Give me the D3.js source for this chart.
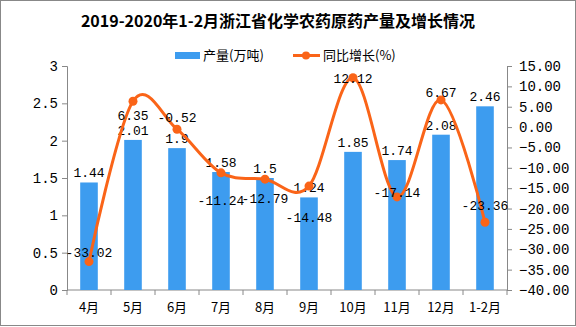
<!DOCTYPE html>
<html>
<head>
<meta charset="utf-8">
<script src="https://cdn.jsdelivr.net/npm/d3@7"></script>
<style>
	body { margin: 0; background: #fff; }
	svg text { font-family: "SimSun", "Noto Sans CJK SC", sans-serif; }
</style>
</head>
<body>
<div id="chart"></div>
<script>
var months = ["4月", "5月", "6月", "7月", "8月", "9月", "10月", "11月", "12月", "1-2月"];
var output = [1.44, 2.01, 1.9, 1.58, 1.5, 1.24, 1.85, 1.74, 2.08, 2.46];
var growth = [-33.02, 6.35, -0.52, -11.24, -12.79, -14.48, 12.12, -17.14, 6.67, -23.36];
var leftTicks = [0, 0.5, 1, 1.5, 2, 2.5, 3];
var rightTicks = [15, 10, 5, 0, -5, -10, -15, -20, -25, -30, -35, -40];
// where each growth label sits relative to its point (px, + is down)
var growthLabelDy = [-10, 14, -12, 27, 19, 31, 0, -5, -8, -17];

var W = 576, H = 327;
var margin = {top: 66, right: 69, bottom: 37, left: 67},
		width = W - margin.left - margin.right,
		height = H - margin.top - margin.bottom;

var svg = d3.select("#chart").append("svg")
		.attr("width", W)
		.attr("height", H);

svg.append("rect")
	.attr("x", 0.5).attr("y", 0.5)
	.attr("width", W - 1).attr("height", H - 2)
	.attr("fill", "#fff")
	.attr("stroke", "#888");

svg.append("text")
	.attr("x", 278).attr("y", 27)
	.attr("text-anchor", "middle")
	.attr("font-size", 16)
	.attr("font-weight", "bold")
	.text("2019-2020年1-2月浙江省化学农药原药产量及增长情况");

// legend
var lg = svg.append("g");
lg.append("rect").attr("x", 175).attr("y", 52).attr("width", 25).attr("height", 7).attr("fill", "#3d9cef");
lg.append("text").attr("x", 203).attr("y", 60).attr("font-size", 13).text("产量(万吨)");
lg.append("line").attr("x1", 293).attr("x2", 320).attr("y1", 55.5).attr("y2", 55.5)
	.attr("stroke", "#fa6418").attr("stroke-width", 3);
lg.append("circle").attr("cx", 306).attr("cy", 55.5).attr("r", 4).attr("fill", "#fa6418");
lg.append("text").attr("x", 323).attr("y", 60).attr("font-size", 13).text("同比增长(%)");

var g = svg.append("g")
		.attr("transform", "translate(" + margin.left + "," + margin.top + ")");

var x = d3.scaleBand()
		.domain(months)
		.range([0, width])
		.paddingInner(0.6)
		.paddingOuter(0.3);

var xc = function(d) { return x(d) + x.bandwidth() / 2; };

var y = d3.scaleLinear().domain([0, 3]).range([height, 0]);
var y2 = d3.scaleLinear().domain([-40, 15]).range([height, 0]);

var yAxis = d3.axisLeft(y).tickValues(leftTicks).tickSize(5).tickPadding(4)
		.tickFormat(function(d) { return String(d); });
var y2Axis = d3.axisRight(y2).tickValues(rightTicks).tickSize(5).tickPadding(7)
		.tickFormat(d3.format(".2f"));

var yg = g.append("g").attr("class", "y axis").call(yAxis);
var y2g = g.append("g").attr("class", "y2 axis")
		.attr("transform", "translate(" + width + ",0)").call(y2Axis);

// x axis with ticks between categories
var xg = g.append("g").attr("transform", "translate(0," + height + ")");
xg.append("line").attr("x1", 0).attr("x2", width).attr("stroke", "#888");
var step = width / months.length;
xg.selectAll("line.tk").data(d3.range(months.length + 1)).enter().append("line")
	.attr("class", "tk")
	.attr("x1", function(i) { return i * step; }).attr("x2", function(i) { return i * step; })
	.attr("y1", 0).attr("y2", 5).attr("stroke", "#888");
xg.selectAll("text").data(months).enter().append("text")
	.attr("x", xc).attr("y", 22)
	.attr("text-anchor", "middle").attr("font-size", 13)
	.text(function(d) { return d; });

[yg, y2g].forEach(function(a) {
	a.select(".domain").attr("stroke", "#888");
	a.selectAll(".tick line").attr("stroke", "#888");
	a.selectAll(".tick text").attr("font-size", 14).attr("fill", "#000")
		.style("font-family", "\"Liberation Mono\", monospace");
});

g.selectAll("rect.bar").data(output).enter().append("rect")
	.attr("class", "bar")
	.attr("fill", "#3d9cef")
	.attr("x", function(d, i) { return x(months[i]); })
	.attr("width", x.bandwidth())
	.attr("y", function(d) { return y(d); })
	.attr("height", function(d) { return height - y(d); });

g.selectAll("text.bl").data(output).enter().append("text")
	.attr("class", "bl")
	.attr("x", function(d, i) { return xc(months[i]); })
	.attr("y", function(d) { return y(d) - 5; })
	.attr("text-anchor", "middle").attr("font-size", 13)
	.style("font-family", "\"Liberation Mono\", monospace")
	.text(function(d) { return d; });

var line = d3.line()
		.x(function(d, i) { return xc(months[i]); })
		.y(function(d) { return y2(d); })
		.curve(d3.curveCardinal.tension(0));

g.append("path").datum(growth)
	.attr("d", line)
	.attr("fill", "none")
	.attr("stroke", "#fa6418")
	.attr("stroke-width", 3);

g.selectAll("circle.pt").data(growth).enter().append("circle")
	.attr("class", "pt")
	.attr("cx", function(d, i) { return xc(months[i]); })
	.attr("cy", function(d) { return y2(d); })
	.attr("r", 4.5)
	.attr("fill", "#fa6418");

g.selectAll("text.gl").data(growth).enter().append("text")
	.attr("class", "gl")
	.attr("x", function(d, i) { return xc(months[i]); })
	.attr("y", function(d, i) { return y2(d) + growthLabelDy[i] + 5; })
	.attr("text-anchor", "middle").attr("font-size", 13)
	.style("font-family", "\"Liberation Mono\", monospace")
	.text(function(d) { return d.toFixed(2); });
</script>
</body>
</html>
